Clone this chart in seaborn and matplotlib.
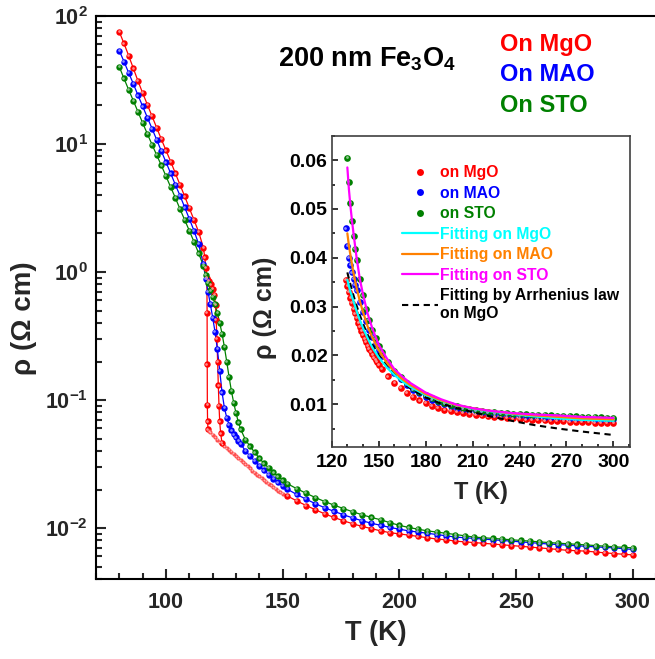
import matplotlib
matplotlib.use("Agg")
import matplotlib.pyplot as plt
from matplotlib.lines import Line2D
from matplotlib.transforms import offset_copy
from matplotlib.colors import to_rgb
from matplotlib.ticker import (FixedLocator, FixedFormatter, MultipleLocator,
                               LogLocator, NullFormatter, FormatStrFormatter)
import pandas as pd
import seaborn as sns

# ---------------------------------------------------------------- data
# shared temperature grids (K)
T_low = [80, 82, 84, 86, 88, 90, 92, 94, 96, 98, 100, 102, 104, 106, 108,
         110, 112, 114, 116]
T_high = [152, 156, 160, 164, 168, 172, 176, 180, 184, 188, 192, 196, 200,
          204, 208, 212, 216, 220, 224, 228, 232, 236, 240, 244, 248, 252,
          256, 260, 264, 268, 272, 276, 280, 284, 288, 292, 296, 300]
T_mid = [117, 118, 119, 120, 121, 122, 123, 124, 125, 126, 127, 128, 129,
         130, 131, 132, 134, 136, 138, 140, 142, 144, 146, 148, 150]

# resistivity (Ohm cm) -- film on MgO
mgo_low = [75, 61, 49, 39, 31, 25, 20.3, 16.5, 13.4, 10.9, 8.9, 7.3, 5.9,
           4.8, 3.9, 3.15, 2.55, 2.05, 1.55]
mgo_drop_T = [116.6, 117.1, 117.5, 117.6, 117.65, 117.7, 117.8, 118.0]
mgo_drop = [1.3, 1.08, 0.88, 0.48, 0.19, 0.092, 0.068, 0.059]
mgo_band_T = [118.5, 119, 120, 121, 122, 123, 124, 125, 126, 127, 128, 129,
              130, 131, 132, 133, 134, 135, 136, 137, 138, 139, 140, 141,
              142, 143, 144, 145, 146, 147, 148, 149, 150]
mgo_band = [0.057, 0.056, 0.0535, 0.051, 0.049, 0.047, 0.045, 0.0435, 0.042,
            0.0408, 0.0393, 0.038, 0.0365, 0.0352, 0.034, 0.0327, 0.0315,
            0.0303, 0.0292, 0.0281, 0.0271, 0.0262, 0.0253, 0.0245, 0.0237,
            0.0229, 0.0222, 0.0215, 0.0208, 0.0202, 0.0196, 0.0191, 0.0186]
mgo_high = [0.0178, 0.0163, 0.0150, 0.0139, 0.0129, 0.0121, 0.0114, 0.0108,
            0.0103, 0.0099, 0.0095, 0.0092, 0.0090, 0.0088, 0.0086, 0.0084,
            0.0082, 0.0081, 0.0079, 0.0078, 0.0077, 0.0076, 0.0075, 0.0074,
            0.0073, 0.0072, 0.0071, 0.0070, 0.0069, 0.0068, 0.0067, 0.00665,
            0.0066, 0.0065, 0.0064, 0.00632, 0.00624, 0.00617]
mgo_warm_T = [117.6, 118.4, 119.2, 120.0, 120.7, 121.2, 121.5, 121.8, 122.1,
              122.4, 122.7, 123.0, 123.4, 124.0]
mgo_warm = [0.9, 0.85, 0.8, 0.74, 0.66, 0.55, 0.42, 0.3, 0.2, 0.13, 0.09,
            0.068, 0.055, 0.046]

# film on MAO
mao_low = [53.6, 44, 36, 29.5, 24, 19.7, 16.1, 13.2, 10.8, 8.8, 7.2, 5.9,
           4.8, 3.95, 3.2, 2.6, 2.1, 1.65, 1.15]
mao_mid = [0.88, 0.70, 0.56, 0.44, 0.34, 0.25, 0.17, 0.115, 0.087, 0.073,
           0.064, 0.058, 0.054, 0.051, 0.048, 0.0455, 0.040, 0.0365, 0.0334,
           0.0306, 0.0282, 0.0261, 0.0243, 0.0227, 0.0213]
mao_high = [0.0201, 0.0183, 0.0168, 0.0155, 0.0144, 0.0135, 0.0127, 0.0120,
            0.0114, 0.0109, 0.0105, 0.0101, 0.0098, 0.0095, 0.0093, 0.0091,
            0.0089, 0.0087, 0.0085, 0.0084, 0.0083, 0.0082, 0.0081, 0.0080,
            0.0079, 0.0078, 0.0077, 0.0076, 0.0075, 0.00743, 0.00735,
            0.00727, 0.0072, 0.00713, 0.00706, 0.0070, 0.0069, 0.0068]

# film on STO
sto_low = [40, 32.5, 26.5, 21.8, 17.8, 14.6, 12.0, 9.9, 8.2, 6.8, 5.6, 4.6,
           3.8, 3.1, 2.55, 2.1, 1.72, 1.4, 1.12]
sto_mid = [0.95, 0.82, 0.72, 0.64, 0.56, 0.48, 0.40, 0.33, 0.26, 0.20,
           0.152, 0.118, 0.095, 0.079, 0.067, 0.059, 0.049, 0.0435, 0.039,
           0.0350, 0.0320, 0.0294, 0.0272, 0.0253, 0.0236]
sto_high = [0.0222, 0.0203, 0.0187, 0.0173, 0.0161, 0.0151, 0.0142, 0.0134,
            0.0127, 0.0121, 0.0116, 0.0110, 0.0105, 0.0101, 0.0098, 0.0095,
            0.0093, 0.0091, 0.0089, 0.0087, 0.0085, 0.0084, 0.0083, 0.0082,
            0.0081, 0.0080, 0.0079, 0.0078, 0.0077, 0.00762, 0.00754,
            0.00746, 0.00738, 0.0073, 0.00722, 0.00714, 0.00707, 0.0070]

# inset: high-temperature branch on a linear scale
in_mgo_T = [129, 130, 131, 132, 133, 134, 135, 136, 137, 138, 139, 140, 141,
            142, 143, 144, 145, 146, 147, 148, 149, 150]
in_mgo = [0.0355, 0.0342, 0.0330, 0.0318, 0.0307, 0.0296, 0.0286, 0.0276,
          0.0267, 0.0258, 0.0250, 0.0242, 0.0234, 0.0227, 0.0220, 0.0214,
          0.0208, 0.0202, 0.0196, 0.0191, 0.0186, 0.0181]
in_mgo_high = [0.0172, 0.0157, 0.0144, 0.0133, 0.0123, 0.0115, 0.0108,
               0.0102, 0.0097, 0.0092, 0.0088, 0.0086, 0.0084, 0.0082,
               0.0080, 0.0078, 0.0077, 0.0075, 0.0074, 0.0073, 0.0072,
               0.0071, 0.0070, 0.0069, 0.0068, 0.00675, 0.0067, 0.00664,
               0.00658, 0.00652, 0.00646, 0.0064, 0.00635, 0.0063, 0.00625,
               0.0062, 0.00615, 0.0061]
in_mao_T = [129, 130, 131, 132, 133, 134, 135, 136, 138, 140, 142, 144, 146,
            148, 150]
in_mao = [0.0460, 0.0425, 0.0400, 0.0385, 0.0370, 0.0357, 0.0344, 0.0333,
          0.0310, 0.0289, 0.0270, 0.0253, 0.0238, 0.0224, 0.0211]
in_mao_high = [0.0199, 0.0180, 0.0164, 0.0151, 0.0140, 0.0130, 0.0122,
               0.0115, 0.0109, 0.0104, 0.0100, 0.0096, 0.0093, 0.0090,
               0.0088, 0.0086, 0.0084, 0.0082, 0.0081, 0.0080, 0.0079,
               0.0078, 0.0077, 0.0076, 0.00755, 0.0075, 0.00745, 0.0074,
               0.00735, 0.0073, 0.00725, 0.0072, 0.00715, 0.0071, 0.00705,
               0.0070, 0.00695, 0.0069]
in_sto_T = [130, 131, 132, 133, 134, 135, 136, 138, 140, 142, 144, 146, 148,
            150]
in_sto = [0.0605, 0.0555, 0.0512, 0.0476, 0.0445, 0.0418, 0.0395, 0.0356,
          0.0323, 0.0296, 0.0273, 0.0253, 0.0235, 0.0220]
in_sto_high = [0.0207, 0.0186, 0.0169, 0.0155, 0.0143, 0.0133, 0.0125,
               0.0118, 0.0112, 0.0107, 0.0103, 0.0099, 0.0096, 0.0093,
               0.0091, 0.0089, 0.0087, 0.0085, 0.0084, 0.0083, 0.0082,
               0.0081, 0.0080, 0.0079, 0.00785, 0.0078, 0.00775, 0.0077,
               0.00765, 0.0076, 0.00755, 0.0075, 0.00745, 0.0074, 0.00735,
               0.0073, 0.00725, 0.0072]

# fitted curves
fit_T = [130, 131, 132, 133, 134, 136, 138, 140, 143, 146, 150, 155, 160,
         165, 170, 180, 190, 200, 210, 220, 235, 250, 265, 280, 300]
fit_mgo = [0.0355, 0.0342, 0.0330, 0.0320, 0.0310, 0.0290, 0.0272, 0.0256,
           0.0235, 0.0216, 0.0196, 0.0176, 0.0160, 0.0147, 0.0136, 0.0119,
           0.0107, 0.0098, 0.0091, 0.0086, 0.0080, 0.0075, 0.0071, 0.0068,
           0.0066]
fit_mao = [0.0450, 0.0425, 0.0405, 0.0386, 0.0368, 0.0337, 0.0311, 0.0289,
           0.0259, 0.0236, 0.0211, 0.0186, 0.0167, 0.0152, 0.0140, 0.0121,
           0.0108, 0.0098, 0.0092, 0.0087, 0.0081, 0.0077, 0.0074, 0.0071,
           0.0069]
fit_sto = [0.0585, 0.0540, 0.0505, 0.0475, 0.0448, 0.0398, 0.0356, 0.0325,
           0.0285, 0.0255, 0.0222, 0.0195, 0.0172, 0.0157, 0.0144, 0.0124,
           0.0110, 0.0099, 0.0092, 0.0087, 0.0082, 0.0079, 0.0077, 0.0074,
           0.0072]
fit_arrh = [0.0370, 0.0357, 0.0345, 0.0333, 0.0322, 0.0301, 0.0282, 0.0265,
            0.0242, 0.0222, 0.0201, 0.0179, 0.0161, 0.0146, 0.0133, 0.0114,
            0.0101, 0.0092, 0.0084, 0.0076, 0.0066, 0.0057, 0.0050, 0.0044,
            0.0037]

main_labels = ["On MgO", "On MAO", "On STO"]
inset_labels = ["on MgO", "on MAO", "on STO", "Fitting on MgO",
                "Fitting on MAO", "Fitting on STO",
                "Fitting by Arrhenius law\non MgO"]
y_major = [1e-2, 1e-1, 1e0, 1e1, 1e2]
y_major_labels = ["$10^{-2}$", "$10^{-1}$", "$10^{0}$", "$10^{1}$", "$10^{2}$"]

# ---------------------------------------------------------------- style
sns.set_theme(style="ticks")
plt.rcParams.update({
    "font.family": ["Liberation Sans", "DejaVu Sans"],
    "font.weight": "bold",
    "axes.labelweight": "bold",
    "mathtext.fontset": "custom",
    "mathtext.rm": "Liberation Sans:bold",
    "mathtext.bf": "Liberation Sans:bold",
    "mathtext.it": "Liberation Sans:bold",
    "mathtext.sf": "Liberation Sans:bold",
    "mathtext.default": "bf",
    "axes.linewidth": 1.5,
    "axes.edgecolor": "black",
    "text.color": "black",
})

RED, BLUE, GREEN = "#ff0000", "#0000ff", "#008000"
CYAN, ORANGE, MAGENTA = "#00ffff", "#ff8000", "#ff00ff"

W, H = 655, 659
fig = plt.figure(figsize=(W / 100, H / 100), dpi=100)

# main axes (right spine falls just outside the canvas)
ax = fig.add_axes([96 / W, 1 - 579 / H, 560.2 / W, 563 / H])
ax.set_yscale("log")


def lighten(color, f):
    r, g, b = to_rgb(color)
    return (r + (1 - r) * f, g + (1 - g) * f, b + (1 - b) * f)


def series(ax, T, rho, color, ms, lw=0.9, line=True, z=2):
    """Line through the points plus shaded spherical markers."""
    df = pd.DataFrame({"T": T, "rho": rho})
    if line:
        sns.lineplot(data=df, x="T", y="rho", sort=False, estimator=None,
                     color=color, lw=lw, ax=ax, zorder=z)
    if ms:
        sns.scatterplot(data=df, x="T", y="rho", color=color, s=ms ** 2,
                        linewidth=0, ax=ax, zorder=3)
        glint = offset_copy(ax.transData, fig=ax.figure, x=-0.55 * ms / 4.6,
                            y=0.55 * ms / 4.6, units="points")
        ax.scatter(T, rho, s=(0.42 * ms) ** 2, color=lighten(color, 0.55),
                   linewidth=0, transform=glint, zorder=3.1)


# MgO: cooling path (upper branch -> drop -> band -> high T) and warming jump
red_T = T_low + mgo_drop_T + mgo_band_T + T_high
red_rho = mgo_low + mgo_drop + mgo_band + mgo_high
series(ax, red_T, red_rho, RED, 0)
series(ax, T_low + mgo_drop_T, mgo_low + mgo_drop, RED, 4.6, line=False)
series(ax, mgo_band_T, mgo_band, "#ff5050", 3.0, line=False)
series(ax, T_high, mgo_high, RED, 4.6, line=False)
series(ax, mgo_warm_T, mgo_warm, RED, 4.6)

series(ax, T_low + T_mid + T_high, mao_low + mao_mid + mao_high, BLUE, 4.6)
series(ax, T_low + T_mid + T_high, sto_low + sto_mid + sto_high, GREEN, 4.6)

ax.set_xlim(70, 310)
ax.set_ylim(10 ** -2.398, 100)
ax.xaxis.set_major_locator(MultipleLocator(50))
ax.xaxis.set_minor_locator(MultipleLocator(10))
ax.yaxis.set_major_locator(FixedLocator(y_major))
ax.yaxis.set_major_formatter(FixedFormatter(y_major_labels))
ax.yaxis.set_minor_locator(LogLocator(base=10, subs=range(2, 10)))
ax.yaxis.set_minor_formatter(NullFormatter())
ax.tick_params(which="both", direction="in", width=1.5, labelsize=15.5,
               top=False, right=False)
ax.tick_params(which="major", length=7)
ax.tick_params(which="minor", length=4)
ax.tick_params(axis="x", pad=9)
ax.tick_params(axis="y", pad=6)
ax.set_xlabel("T (K)", fontsize=19.5, fontweight="bold")
ax.set_ylabel("ρ (Ω cm)", fontsize=20, fontweight="bold")
ax.xaxis.set_label_coords(0.5, -0.072)
ax.yaxis.set_label_coords(-0.105, 0.464)
for s in ax.spines.values():
    s.set_linewidth(1.5)

# sample caption and coloured series names
fig.text(278 / W, 1 - 66.5 / H, "200 nm Fe$_3$O$_4$", fontsize=19.5,
         fontweight="bold", va="baseline", ha="left")
h_main = [Line2D([], [], color=c) for c in (RED, BLUE, GREEN)]
leg = ax.legend(h_main, main_labels, loc="upper left",
                bbox_to_anchor=(500 / W, 1 - 33 / H),
                bbox_transform=fig.transFigure, frameon=False,
                handlelength=0, handletextpad=0, borderpad=0,
                borderaxespad=0, labelspacing=0.31,
                labelcolor=[RED, BLUE, GREEN],
                prop={"size": 17, "weight": "bold"})
for h in leg.legend_handles:
    h.set_visible(False)

# ---------------------------------------------------------------- inset
axi = fig.add_axes([331.7 / W, 1 - 446.7 / H, 298.3 / W, 311 / H])
axi.set_facecolor("white")

series(axi, in_mgo_T + T_high, in_mgo + in_mgo_high, RED, 4.8, line=False)
series(axi, in_mao_T + T_high, in_mao + in_mao_high, BLUE, 4.8, line=False)
series(axi, in_sto_T + T_high, in_sto + in_sto_high, GREEN, 4.8, line=False)
series(axi, fit_T, fit_arrh, "black", 0, lw=1.5, z=4)
axi.lines[-1].set_linestyle((0, (3.0, 2.2)))
series(axi, fit_T, fit_mgo, CYAN, 0, lw=1.6, z=4)
series(axi, fit_T, fit_mao, ORANGE, 0, lw=1.6, z=4)
series(axi, fit_T, fit_sto, MAGENTA, 0, lw=1.6, z=4)

axi.set_xlim(120, 310.6)
axi.set_ylim(0.0013, 0.065)
axi.xaxis.set_major_locator(MultipleLocator(30))
axi.xaxis.set_minor_locator(MultipleLocator(10))
axi.yaxis.set_major_locator(MultipleLocator(0.01))
axi.yaxis.set_minor_locator(MultipleLocator(0.005))
axi.yaxis.set_major_formatter(FormatStrFormatter("%.2f"))
axi.tick_params(which="both", direction="in", width=1.1, labelsize=14,
                colors="black", top=False, right=False)
axi.tick_params(which="major", length=4.5)
axi.tick_params(which="minor", length=2.5)
axi.tick_params(axis="x", pad=5)
axi.tick_params(axis="y", pad=3)
axi.set_xlabel("T (K)", fontsize=17, fontweight="bold")
axi.set_ylabel("ρ (Ω cm)", fontsize=18, fontweight="bold")
axi.xaxis.set_label_coords(0.5, -0.11)
axi.yaxis.set_label_coords(-0.183, 0.448)
for s in axi.spines.values():
    s.set_linewidth(1.2)
    s.set_edgecolor("#404040")

h_in = [Line2D([], [], ls="none", marker="o", ms=5, mew=0, color=RED),
        Line2D([], [], ls="none", marker="o", ms=5, mew=0, color=BLUE),
        Line2D([], [], ls="none", marker="o", ms=5, mew=0, color=GREEN),
        Line2D([], [], color=CYAN, lw=1.6),
        Line2D([], [], color=ORANGE, lw=1.6),
        Line2D([], [], color=MAGENTA, lw=1.6),
        Line2D([], [], color="black", lw=1.5, ls=(0, (3.0, 2.2)))]
axi.legend(h_in, inset_labels, loc="upper left",
           bbox_to_anchor=((401.7 - 331.7) / 298.3, 0.905),
           frameon=False, handlelength=2.3, handletextpad=0.12,
           borderpad=0, borderaxespad=0, labelspacing=0.35,
           labelcolor=[RED, BLUE, GREEN, CYAN, ORANGE, MAGENTA, "black"],
           prop={"size": 11.3, "weight": "bold"})

fig.savefig("out.png", dpi=100)
